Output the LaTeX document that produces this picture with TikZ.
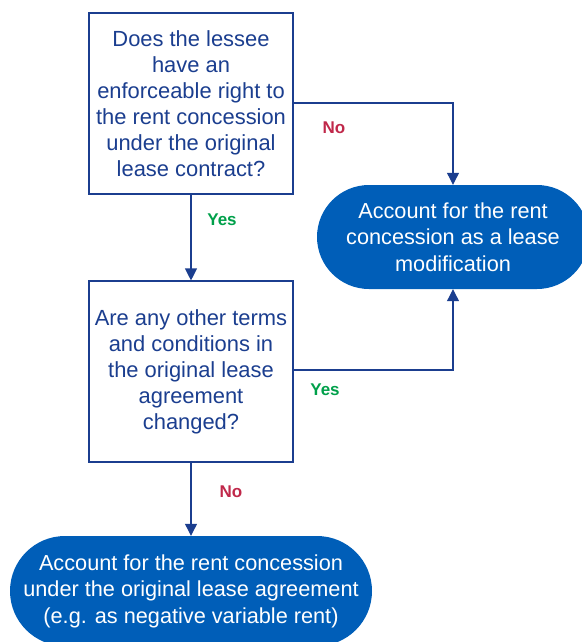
\documentclass[tikz,border=0pt]{standalone}
\usepackage{fontspec}
\setmainfont{Liberation Sans}
\usetikzlibrary{arrows.meta}
\definecolor{dblue}{HTML}{1B3E8F}
\definecolor{fillblue}{HTML}{005EB8}
\definecolor{nored}{HTML}{C0284A}
\definecolor{yesgreen}{HTML}{00A04A}
\tikzset{
  qbox/.style={draw=dblue, line width=1.1pt, fill=white, text=dblue, minimum width=204pt, minimum height=181pt, align=center, inner sep=0pt, font=\fontsize{21.9}{26}\selectfont},
  endbox/.style={fill=fillblue, text=white, align=center, inner sep=0pt, font=\fontsize{21.7}{26.5}\selectfont},
  conn/.style={draw=dblue, line width=1.1pt, -{Triangle[width=12pt,length=12pt]}},
  nolbl/.style={text=nored, font=\fontsize{17}{19}\bfseries\selectfont},
  yeslbl/.style={text=yesgreen, font=\fontsize{17}{19}\bfseries\selectfont},
}
\begin{document}
\begin{tikzpicture}[x=1pt,y=-1pt]
\useasboundingbox (0,0) rectangle (581,642);
\node[qbox] (q1) at (191,103.5) {Does the lessee\\have an\\enforceable right to\\the rent concession\\under the original\\lease contract?};
\node[qbox] (q2) at (191,371.5) {Are any other terms\\and conditions in\\the original lease\\agreement\\changed?};
\node[endbox, minimum width=272pt, minimum height=104pt, rounded corners=52pt] (mod) at (453,237) {Account for the rent\\concession as a lease\\modification};
\node[endbox, minimum width=362pt, minimum height=110pt, rounded corners=55pt] (orig) at (191,591) {Account for the rent concession\\under the original lease agreement\\(e.g. as negative variable rent)};
\coordinate (c1) at (453,103);
\coordinate (c2) at (453,370);
\draw[conn] (q1.east |- 0,103) -- (c1) -- (mod.north);
\draw[conn] (q1.south) -- (q2.north);
\draw[conn] (q2.east |- 0,370) -- (c2) -- (mod.south);
\draw[conn] (q2.south) -- (orig.north);
\node[nolbl] (n1) at (334,128) {No};
\node[yeslbl] (y1) at (222,220) {Yes};
\node[yeslbl] (y2) at (325,390) {Yes};
\node[nolbl] (n2) at (231,492) {No};
\end{tikzpicture}
\end{document}
